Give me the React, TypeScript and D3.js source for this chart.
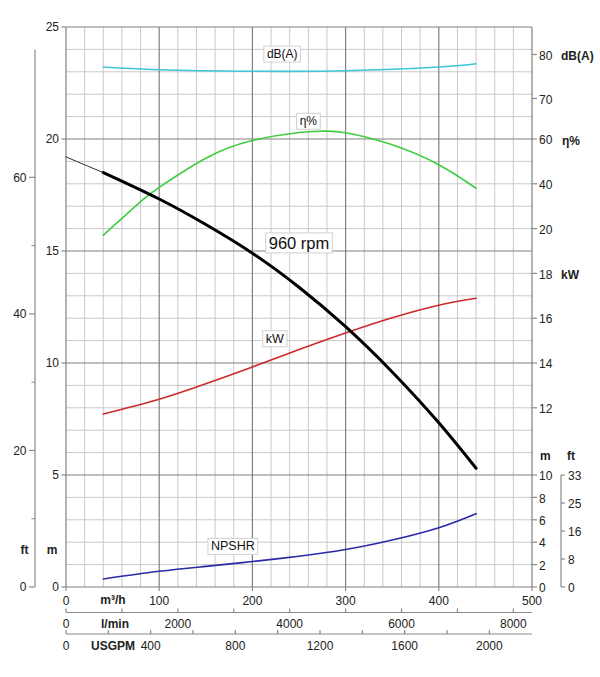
import React, { useEffect, useRef } from "react";
import * as d3 from "d3";

// ---- data ----
const headFlow = [0, 40, 100, 150, 200, 250, 300, 350, 400, 440];
const headValues = [19.2, 18.5, 17.32, 16.18, 14.9, 13.38, 11.62, 9.6, 7.33, 5.3];
const effFlow = [40, 80, 100, 150, 200, 250, 275, 300, 350, 400, 440];
const effValues = [17.1, 32.0, 38.4, 51.4, 59.3, 62.9, 63.5, 62.8, 57.4, 48.5, 38.0];
const dbFlow = [40, 100, 200, 300, 400, 440];
const dbValues = [77.15, 76.55, 76.2, 76.3, 77.15, 77.9];
const kwFlow = [40, 100, 150, 200, 250, 300, 350, 400, 440];
const kwValues = [11.72, 12.38, 13.07, 13.82, 14.6, 15.34, 16.02, 16.58, 16.89];
const npshFlow = [40, 100, 150, 200, 250, 300, 350, 400, 440];
const npshValues = [0.72, 1.4, 1.84, 2.27, 2.75, 3.35, 4.2, 5.3, 6.55];

const flowTicks = [0, 100, 200, 300, 400, 500];
const headTicks = [0, 5, 10, 15, 20, 25];
const headFtTicks = [0, 20, 40, 60];
const headFtMinorTicks = [10, 30, 50];
const lpmTicks = [0, 1000, 2000, 3000, 4000, 5000, 6000, 7000, 8000];
const lpmLabels = [0, 2000, 4000, 6000, 8000];
const usgpmTicks = [0, 200, 400, 600, 800, 1000, 1200, 1400, 1600, 1800, 2000];
const usgpmLabels = [0, 400, 800, 1200, 1600, 2000];
const dbTicks = [70, 80];
const effTicks = [20, 40, 60];
const kwTicks = [12, 14, 16, 18];
const npshTicks = [0, 2, 4, 6, 8, 10];
const npshFtTicks = [0, 8.2, 16.4, 24.6, 32.8];

const curveLabels = [
  { text: "dB(A)", q: 232, h: 23.8, size: 12 },
  { text: "η%", q: 260, h: 20.8, size: 12 },
  { text: "960 rpm", q: 250, h: 15.35, size: 16.5 },
  { text: "kW", q: 224, h: 11.1, size: 12.5 },
  { text: "NPSHR", q: 179, h: 1.83, size: 12.5 },
];

const FONT = "'Liberation Sans', Arial, Helvetica, sans-serif";

export default function App() {
  const ref = useRef<SVGSVGElement>(null);

  useEffect(() => {
    const svg = d3.select(ref.current);
    svg.selectAll("*").remove();

    const x = d3.scaleLinear().domain([0, 500]).range([66, 532]);
    const y = d3.scaleLinear().domain([0, 25]).range([587, 27]);
    const yFt = d3.scaleLinear().domain([0, 25 / 0.3048]).range([587, 27]);
    const yDb = d3.scaleLinear().domain([70, 80]).range([98.5, 54.5]);
    const yEff = d3.scaleLinear().domain([20, 60]).range([y(16), y(20)]);
    const yKw = d3.scaleLinear().domain([12, 18]).range([y(8), y(14)]);
    const yNpsh = d3.scaleLinear().domain([0, 10]).range([y(0), y(5)]);
    const yNpshFt = d3.scaleLinear().domain([0, 32.8]).range([y(0), y(5)]);
    const xLpm = d3.scaleLinear().domain([0, 500 * 1000 / 60]).range([66, 532]);
    const xUs = d3.scaleLinear().domain([0, 500 / 0.2271247]).range([66, 532]);

    const g = svg.append("g").attr("font-family", FONT).attr("fill", "#222");

    // grid
    const vLines = d3.range(0, 501, 20);
    const hLines = d3.range(0, 26, 1);
    const minor = g.append("g").attr("stroke", "#c9c9c9").attr("stroke-width", 1);
    minor.selectAll("line.v").data(vLines.filter((v) => v % 100 !== 0)).join("line")
      .attr("x1", (d) => x(d)).attr("x2", (d) => x(d)).attr("y1", y(0)).attr("y2", y(25));
    minor.selectAll("line.h").data(hLines.filter((v) => v % 5 !== 0)).join("line")
      .attr("y1", (d) => y(d)).attr("y2", (d) => y(d)).attr("x1", x(0)).attr("x2", x(500));
    const major = g.append("g").attr("stroke", "#808080").attr("stroke-width", 1.2);
    major.selectAll("line.v").data(vLines.filter((v) => v % 100 === 0)).join("line")
      .attr("x1", (d) => x(d)).attr("x2", (d) => x(d)).attr("y1", y(0)).attr("y2", y(25));
    major.selectAll("line.h").data(hLines.filter((v) => v % 5 === 0)).join("line")
      .attr("y1", (d) => y(d)).attr("y2", (d) => y(d)).attr("x1", x(0)).attr("x2", x(500));

    const axisStroke = "#8a8a8a";
    // left m axis ticks & labels
    g.append("g").selectAll("line").data(headTicks).join("line")
      .attr("x1", 61.5).attr("x2", x(0)).attr("y1", (d) => y(d)).attr("y2", (d) => y(d))
      .attr("stroke", axisStroke).attr("stroke-width", 1.2);
    g.append("g").selectAll("text").data(headTicks).join("text")
      .attr("x", 59).attr("y", (d) => y(d)).attr("dy", "0.35em").attr("text-anchor", "end")
      .attr("font-size", 12).text((d) => d);

    // left ft axis
    g.append("line").attr("x1", 35).attr("x2", 35).attr("y1", yFt(0)).attr("y2", yFt(78.7))
      .attr("stroke", axisStroke).attr("stroke-width", 1.2);
    g.append("g").selectAll("line").data(headFtTicks).join("line")
      .attr("x1", 29).attr("x2", 35).attr("y1", (d) => yFt(d)).attr("y2", (d) => yFt(d))
      .attr("stroke", axisStroke).attr("stroke-width", 1.2);
    g.append("g").selectAll("line").data(headFtMinorTicks).join("line")
      .attr("x1", 31.5).attr("x2", 35).attr("y1", (d) => yFt(d)).attr("y2", (d) => yFt(d))
      .attr("stroke", axisStroke).attr("stroke-width", 1);
    g.append("g").selectAll("text").data(headFtTicks).join("text")
      .attr("x", 26.5).attr("y", (d) => yFt(d)).attr("dy", "0.35em").attr("text-anchor", "end")
      .attr("font-size", 12).text((d) => d);
    g.append("text").attr("x", 24.5).attr("y", 550).attr("dy", "0.35em").attr("text-anchor", "middle")
      .attr("font-size", 12).attr("font-weight", "bold").text("ft");
    g.append("text").attr("x", 52).attr("y", 550).attr("dy", "0.35em").attr("text-anchor", "middle")
      .attr("font-size", 12).attr("font-weight", "bold").text("m");

    // right axes
    const rightTicks = (scale: any, ticks: number[], fmt = (d: number) => String(d)) => {
      const gg = g.append("g");
      gg.selectAll("line").data(ticks).join("line")
        .attr("x1", x(500)).attr("x2", x(500) + 5).attr("y1", (d) => scale(d)).attr("y2", (d) => scale(d))
        .attr("stroke", axisStroke).attr("stroke-width", 1.2);
      gg.selectAll("text").data(ticks).join("text")
        .attr("x", 539).attr("y", (d) => scale(d) + 1).attr("dy", "0.35em")
        .attr("font-size", 12).text((d) => fmt(d));
    };
    rightTicks(yDb, dbTicks);
    rightTicks(yEff, effTicks);
    rightTicks(yKw, kwTicks);
    rightTicks(yNpsh, npshTicks);
    const unit = (t: string, xx: number, yy: number) =>
      g.append("text").attr("x", xx).attr("y", yy).attr("dy", "0.35em").attr("font-size", 12)
        .attr("font-weight", "bold").text(t);
    unit("dB(A)", 561, yDb(80) + 1);
    unit("η%", 562, yEff(60) + 2);
    unit("kW", 561, yKw(18) + 1);
    unit("m", 540, 456);
    unit("ft", 567, 456);

    // right ft axis
    g.append("line").attr("x1", 561).attr("x2", 561).attr("y1", yNpshFt(0)).attr("y2", yNpshFt(32.8))
      .attr("stroke", axisStroke).attr("stroke-width", 1.2);
    g.append("g").selectAll("line").data(npshFtTicks).join("line")
      .attr("x1", 561).attr("x2", 565).attr("y1", (d) => yNpshFt(d)).attr("y2", (d) => yNpshFt(d))
      .attr("stroke", axisStroke).attr("stroke-width", 1.2);
    g.append("g").selectAll("text").data(npshFtTicks).join("text")
      .attr("x", 568).attr("y", (d) => yNpshFt(d) + 1).attr("dy", "0.35em")
      .attr("font-size", 12).text((d) => d3.format(".0f")(d));

    // bottom m3/h axis
    g.append("g").selectAll("line").data(flowTicks).join("line")
      .attr("x1", (d) => x(d)).attr("x2", (d) => x(d)).attr("y1", y(0)).attr("y2", y(0) + 4)
      .attr("stroke", axisStroke).attr("stroke-width", 1.2);
    g.append("g").selectAll("text").data(flowTicks).join("text")
      .attr("x", (d) => x(d)).attr("y", 601).attr("dy", "0.35em").attr("text-anchor", "middle")
      .attr("font-size", 12).text((d) => d);
    g.append("text").attr("x", 113).attr("y", 600).attr("dy", "0.35em").attr("text-anchor", "middle")
      .attr("font-size", 12).attr("font-weight", "bold").text("m³/h");

    // l/min axis
    const lpmY = 612.5;
    g.append("line").attr("x1", xLpm(0)).attr("x2", x(500)).attr("y1", lpmY).attr("y2", lpmY)
      .attr("stroke", axisStroke).attr("stroke-width", 1.2);
    g.append("g").selectAll("line").data(lpmTicks).join("line")
      .attr("x1", (d) => xLpm(d)).attr("x2", (d) => xLpm(d)).attr("y1", lpmY).attr("y2", lpmY - 4)
      .attr("stroke", axisStroke).attr("stroke-width", 1.2);
    g.append("g").selectAll("text").data(lpmLabels).join("text")
      .attr("x", (d) => xLpm(d)).attr("y", 624).attr("dy", "0.35em").attr("text-anchor", "middle")
      .attr("font-size", 12).text((d) => d);
    g.append("text").attr("x", 115).attr("y", 624).attr("dy", "0.35em").attr("text-anchor", "middle")
      .attr("font-size", 12).attr("font-weight", "bold").text("l/min");

    // USGPM axis
    const usY = 634;
    g.append("line").attr("x1", xUs(0)).attr("x2", x(500)).attr("y1", usY).attr("y2", usY)
      .attr("stroke", axisStroke).attr("stroke-width", 1.2);
    g.append("g").selectAll("line").data(usgpmTicks).join("line")
      .attr("x1", (d) => xUs(d)).attr("x2", (d) => xUs(d)).attr("y1", usY).attr("y2", usY - 4)
      .attr("stroke", axisStroke).attr("stroke-width", 1.2);
    g.append("g").selectAll("text").data(usgpmLabels).join("text")
      .attr("x", (d) => xUs(d)).attr("y", 646).attr("dy", "0.35em").attr("text-anchor", "middle")
      .attr("font-size", 12).text((d) => d);
    g.append("text").attr("x", 113).attr("y", 646).attr("dy", "0.35em").attr("text-anchor", "middle")
      .attr("font-size", 12).attr("font-weight", "bold").text("USGPM");

    // curves
    const drawCurve = (flows: number[], vals: number[], ys: any, color: string, w: number) => {
      const pts = flows.map((q, i) => [q, vals[i]] as [number, number]);
      const line = d3.line<[number, number]>().x((d) => x(d[0])).y((d) => ys(d[1]))
        .curve(d3.curveNatural);
      g.append("path").attr("d", line(pts)).attr("fill", "none").attr("stroke", color)
        .attr("stroke-width", w).attr("stroke-linecap", "round");
    };
    drawCurve(dbFlow, dbValues, yDb, "#3cc6d6", 1.6);
    drawCurve(effFlow, effValues, yEff, "#3fcc3f", 1.6);
    drawCurve(kwFlow, kwValues, yKw, "#cc2a2a", 1.6);
    drawCurve(npshFlow, npshValues, yNpsh, "#2a2aa6", 1.6);
    // head: thin extrapolation then thick operating range
    drawCurve(headFlow.slice(0, 2), headValues.slice(0, 2), y, "#333", 1);
    drawCurve(headFlow.slice(1), headValues.slice(1), y, "#000", 3);

    // curve labels
    curveLabels.forEach((l) => {
      const lg = g.append("g");
      const t = lg.append("text").attr("x", x(l.q)).attr("y", y(l.h)).attr("dy", "0.35em")
        .attr("text-anchor", "middle").attr("font-size", l.size).attr("fill", "#111").text(l.text);
      const bb = (t.node() as SVGTextElement).getBBox();
      lg.insert("rect", "text").attr("x", bb.x - 3).attr("y", bb.y - 1).attr("width", bb.width + 6)
        .attr("height", bb.height + 2).attr("fill", "#fff").attr("stroke", "#d0d0d0").attr("stroke-width", 1);
    });
  }, []);

  return (
    <svg ref={ref} width={600} height={677}
      style={{ position: "absolute", left: 0, top: 0, background: "#fff", display: "block" }} />
  );
}
